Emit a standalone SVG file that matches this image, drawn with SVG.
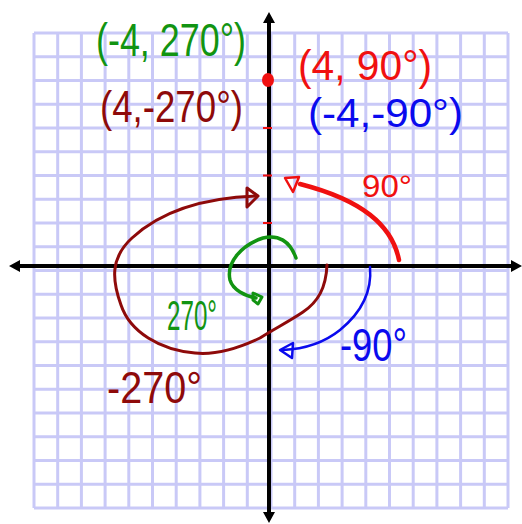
<svg xmlns="http://www.w3.org/2000/svg" width="522" height="524" viewBox="0 0 522 524">
<defs>
<style>
.grid{stroke:#c9c9f7;stroke-width:3;fill:none}
.axis{stroke:#000;stroke-width:4;fill:none}
.hw{font-family:"Liberation Sans","DejaVu Sans",sans-serif}
.g{fill:#129412}.gs{stroke:#129412}
.b{fill:#8e0a0a}.bs{stroke:#8e0a0a}
.r{fill:#f01010}.rs{stroke:#f01010}
.u{fill:#0a0aee}.us{stroke:#0a0aee}
.curve{fill:none;stroke-linecap:round;stroke-linejoin:round}
</style>
</defs>
<rect width="522" height="524" fill="#fff"/>
<g id="grid">
<path class="grid" d="M34,33V508M57.7,33V508M81.4,33V508M105.1,33V508M128.8,33V508M152.5,33V508M176.2,33V508M199.9,33V508M223.6,33V508M247.3,33V508M271,33V508M294.7,33V508M318.4,33V508M342.1,33V508M365.8,33V508M389.5,33V508M413.2,33V508M436.9,33V508M460.6,33V508M484.3,33V508M508,33V508"/>
<path class="grid" d="M34,33H508M34,56.75H508M34,80.5H508M34,104.25H508M34,128H508M34,151.75H508M34,175.5H508M34,199.25H508M34,223H508M34,246.75H508M34,270.5H508M34,294.25H508M34,318H508M34,341.75H508M34,365.5H508M34,389.25H508M34,413H508M34,436.75H508M34,460.5H508M34,484.25H508M34,508H508"/>
</g>
<g id="axes">
<path class="axis" d="M18,266H514M269,20V515"/>
<path d="M9,266L20,260V272Z M522,266L511,260V272Z M269,12L263,23H275Z M269,523L263,512H275Z" fill="#000"/>
</g>
<g id="ticks">
<path d="M263,128H272M263,175.5H272M263,223H272" stroke="#f01010" stroke-width="2"/>
<ellipse cx="268" cy="80" rx="6" ry="7" fill="#f01010"/>
</g>
<g id="connectors">
<path class="curve rs" stroke-width="4.5" d="M399,260C392,225 362,200 300,184"/>
<path class="curve rs" stroke-width="2.5" d="M299,177L285,178L293,192Z"/>
<path class="curve bs" stroke-width="3" d="M327,265C326,288 318,302 303,312C290,321 272,330 260,338C235,350 215,355 195,353C160,350 130,332 121,305C112,280 110,258 132,238C160,212 200,198 256,196"/>
<path class="curve bs" stroke-width="3" d="M247,188L258,196L247,207Z"/>
<path class="curve us" stroke-width="2.5" d="M370,267C372,290 362,312 340,330C325,342 305,349 283,350"/>
<path class="curve us" stroke-width="2.5" d="M293,343L280,350L292,358Z"/>
<path class="curve gs" stroke-width="3.5" d="M296,258C290,241 278,234 263,238C242,245 226,262 230,280C233,290 245,296 256,298"/>
<path class="curve gs" stroke-width="3" d="M253,293L262,297L258,304L253,300Z"/>
</g>
<g id="labels">
<text class="hw g" x="96" y="56" font-size="46" textLength="150" lengthAdjust="spacingAndGlyphs">(-4, 270°)</text>
<text class="hw b" x="100" y="122" font-size="44" textLength="143" lengthAdjust="spacingAndGlyphs">(4,-270°)</text>
<text class="hw r" x="298" y="80" font-size="42" textLength="134" lengthAdjust="spacingAndGlyphs">(4, 90°)</text>
<text class="hw u" x="308" y="127" font-size="40" textLength="155" lengthAdjust="spacingAndGlyphs">(-4,-90°)</text>
<text class="hw r" x="362" y="197" font-size="32" textLength="50" lengthAdjust="spacingAndGlyphs">90°</text>
<text class="hw g" x="167" y="330" font-size="42" textLength="50" lengthAdjust="spacingAndGlyphs">270°</text>
<text class="hw b" x="107" y="403" font-size="44" textLength="95" lengthAdjust="spacingAndGlyphs">-270°</text>
<text class="hw u" x="340" y="361" font-size="46" textLength="67" lengthAdjust="spacingAndGlyphs">-90°</text>
</g>
</svg>
